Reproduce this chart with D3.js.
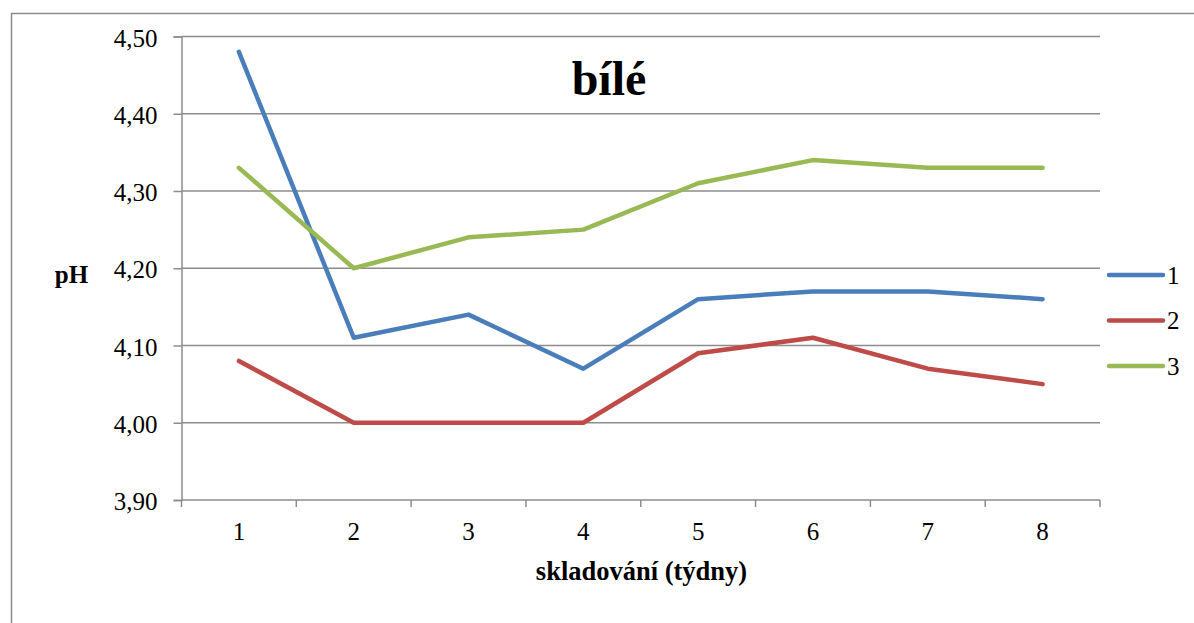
<!DOCTYPE html>
<html>
<head>
<meta charset="utf-8">
<script src="https://cdnjs.cloudflare.com/ajax/libs/d3/7.8.5/d3.min.js"></script>
</head>
<body style="margin:0">
<svg id="chart" width="1194" height="623" style="display:block"></svg>
<script>
// pH of white samples during storage, three replicates
const weeks = ["1", "2", "3", "4", "5", "6", "7", "8"];
const seriesNames = ["1", "2", "3"];
const series1 = [4.48, 4.11, 4.14, 4.07, 4.16, 4.17, 4.17, 4.16];
const series2 = [4.08, 4.00, 4.00, 4.00, 4.09, 4.11, 4.07, 4.05];
const series3 = [4.33, 4.20, 4.24, 4.25, 4.31, 4.34, 4.33, 4.33];
const yTicks = [3.9, 4.0, 4.1, 4.2, 4.3, 4.4, 4.5];
const colors = ["#4A7EBB", "#BE4B48", "#98B954"];

const svg = d3.select("#chart");
const font = "Liberation Serif";
const gridColor = "#8c8c8c";

// outer chart frame (runs past the right and bottom edges)
svg.append("rect")
  .attr("x", 11.5).attr("y", 13.5)
  .attr("width", 1200).attr("height", 700)
  .attr("fill", "none").attr("stroke", gridColor).attr("stroke-width", 1.5);

const plot = { left: 181.5, right: 1100, top: 36.5, bottom: 500 };

const x = d3.scaleBand().domain(weeks).range([plot.left, plot.right]);
const y = d3.scaleLinear().domain([3.9, 4.5]).range([plot.bottom, plot.top]);

// horizontal gridlines
svg.append("g")
  .selectAll("line")
  .data(yTicks.slice(1))
  .join("line")
  .attr("x1", plot.left).attr("x2", plot.right)
  .attr("y1", d => y(d)).attr("y2", d => y(d))
  .attr("stroke", gridColor).attr("stroke-width", 1.5);

// y axis
const yAxis = d3.axisLeft(y)
  .tickValues(yTicks)
  .tickSize(8)
  .tickPadding(16)
  .tickFormat(d => d3.format(".2f")(d).replace(".", ","));
const gy = svg.append("g").attr("transform", `translate(${plot.left},0)`).call(yAxis);
gy.attr("font-family", font).attr("font-size", 25);
gy.select(".domain").attr("stroke", gridColor).attr("stroke-width", 1.5);
gy.selectAll(".tick line").attr("stroke", gridColor).attr("stroke-width", 1.5);
gy.selectAll(".tick text").attr("fill", "#000").attr("dy", "0.38em");

// x axis: ticks at category boundaries
const boundaries = weeks.map(w => x(w)).concat([plot.right]);
const gx = svg.append("g");
gx.append("line")
  .attr("x1", plot.left).attr("x2", plot.right)
  .attr("y1", plot.bottom).attr("y2", plot.bottom)
  .attr("stroke", gridColor).attr("stroke-width", 1.5);
gx.selectAll("line.tk")
  .data(boundaries)
  .join("line")
  .attr("class", "tk")
  .attr("x1", d => d).attr("x2", d => d)
  .attr("y1", plot.bottom).attr("y2", plot.bottom + 7)
  .attr("stroke", gridColor).attr("stroke-width", 1.5);
gx.selectAll("text")
  .data(weeks)
  .join("text")
  .attr("x", d => x(d) + x.bandwidth() / 2)
  .attr("y", 540)
  .attr("text-anchor", "middle")
  .attr("font-family", font).attr("font-size", 25)
  .text(d => d);

// series lines
const line = d3.line()
  .x((d, i) => x(weeks[i]) + x.bandwidth() / 2)
  .y(d => y(d));
[series1, series2, series3].forEach((s, i) => {
  svg.append("path")
    .datum(s)
    .attr("d", line)
    .attr("fill", "none")
    .attr("stroke", colors[i])
    .attr("stroke-width", 4.5)
    .attr("stroke-linejoin", "round")
    .attr("stroke-linecap", "round");
});

// title
svg.append("text")
  .attr("x", 609).attr("y", 95)
  .attr("text-anchor", "middle")
  .attr("font-family", font).attr("font-size", 48).attr("font-weight", "bold")
  .text("bílé");

// axis titles
svg.append("text")
  .attr("x", 71.5).attr("y", 283)
  .attr("text-anchor", "middle")
  .attr("font-family", font).attr("font-size", 25).attr("font-weight", "bold")
  .text("pH");
svg.append("text")
  .attr("x", 641.5).attr("y", 580)
  .attr("text-anchor", "middle")
  .attr("font-family", font).attr("font-size", 26.5).attr("font-weight", "bold")
  .text("skladování (týdny)");

// legend
const legend = svg.append("g");
seriesNames.forEach((name, i) => {
  const ly = 275 + i * 45.5;
  legend.append("line")
    .attr("x1", 1109).attr("x2", 1163)
    .attr("y1", ly).attr("y2", ly)
    .attr("stroke", colors[i]).attr("stroke-width", 4.5)
    .attr("stroke-linecap", "round");
  legend.append("text")
    .attr("x", 1167).attr("y", ly + 8.5)
    .attr("font-family", font).attr("font-size", 25)
    .text(name);
});
</script>
</body>
</html>
